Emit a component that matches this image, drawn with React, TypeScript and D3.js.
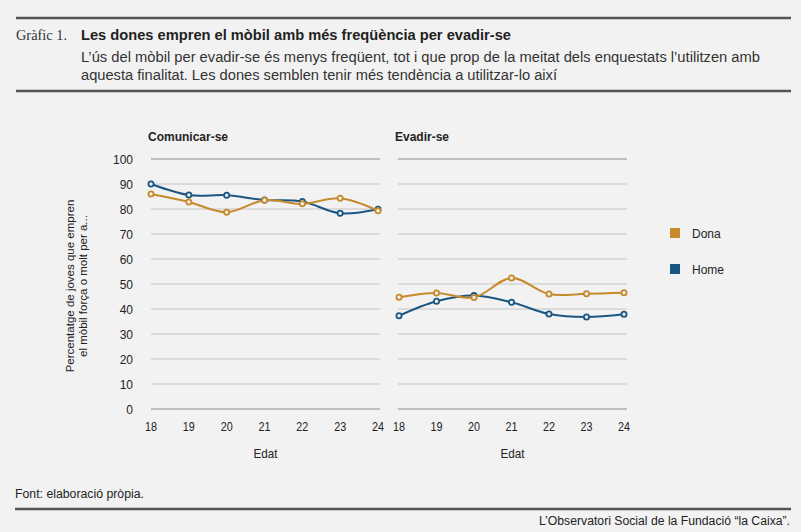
import * as d3 from 'd3';

const ages = [18, 19, 20, 21, 22, 23, 24];
const yTicks = [0, 10, 20, 30, 40, 50, 60, 70, 80, 90, 100];

const comunicarDona = [86, 82.8, 78.7, 83.5, 82.1, 84.3, 79.3];
const comunicarHome = [90, 85.6, 85.5, 83.6, 83, 78.3, 79.9];
const evadirDona = [44.7, 46.4, 44.6, 52.4, 46, 46.1, 46.5];
const evadirHome = [37.3, 43.1, 45.4, 42.7, 38, 36.8, 37.9];

const panelTitles = ['Comunicar-se', 'Evadir-se'];
const seriesNames = ['Dona', 'Home'];
const seriesColors = ['#c68a2b', '#1b5682'];

const narrow = '"Liberation Sans", Arial, sans-serif';
const sans = '"Liberation Sans", Arial, sans-serif';

export default function App() {
  const width = 801;
  const height = 532;
  const top = 159;
  const bottom = 409;
  const panels = [
    { x0: 151, x1: 378, gx0: 151, gx1: 380, dona: comunicarDona, home: comunicarHome },
    { x0: 399, x1: 624, gx0: 398, gx1: 627, dona: evadirDona, home: evadirHome },
  ];

  const y = d3.scaleLinear().domain([0, 100]).range([bottom, top]);

  return (
    <div style={{ position: 'fixed', left: 0, top: 0 }}>
      <svg width={width} height={height} viewBox={`0 0 ${width} ${height}`} style={{ display: 'block' }}>
        <rect width={width} height={height} fill="#f2f2f2" />

        {/* header */}
        <line x1={16} x2={791} y1={18} y2={18} stroke="#555" strokeWidth={2.5} />
        <text x={16} y={40} fontFamily='"Liberation Serif", serif' fontSize={14} fill="#333" textLength={51} lengthAdjust="spacingAndGlyphs">
          Gràfic 1.
        </text>
        <text x={81} y={40} fontFamily={narrow} fontSize={15.5} fontWeight="bold" fill="#222" textLength={430} lengthAdjust="spacingAndGlyphs">
          Les dones empren el mòbil amb més freqüència per evadir-se
        </text>
        <text x={81} y={62} fontFamily={narrow} fontSize={15.5} fill="#333" textLength={679} lengthAdjust="spacingAndGlyphs">
          L’ús del mòbil per evadir-se és menys freqüent, tot i que prop de la meitat dels enquestats l’utilitzen amb
        </text>
        <text x={81} y={80} fontFamily={narrow} fontSize={15.5} fill="#333" textLength={476} lengthAdjust="spacingAndGlyphs">
          aquesta finalitat. Les dones semblen tenir més tendència a utilitzar-lo així
        </text>
        <line x1={16} x2={791} y1={91} y2={91} stroke="#555" strokeWidth={2.5} />

        {/* y axis label */}
        <text
          transform={`translate(74,${(top + bottom) / 2 + 2}) rotate(-90)`}
          textAnchor="middle"
          fontFamily={sans}
          fontSize={11.5}
          fill="#222"
        >
          <tspan x={0} dy={0}>Percentatge de joves que empren</tspan>
          <tspan x={0} dy={12.5}>el mòbil força o molt per a...</tspan>
        </text>

        {yTicks.map((t) => (
          <text key={t} x={133} y={y(t) + 4.5} textAnchor="end" fontFamily={sans} fontSize={12} fill="#222">
            {t}
          </text>
        ))}

        {panels.map((p, pi) => {
          const x = d3.scaleLinear().domain([18, 24]).range([p.x0, p.x1]);
          const line = d3
            .line<number>()
            .x((_, i) => x(ages[i]))
            .y((v) => y(v))
            .curve(d3.curveCatmullRom.alpha(0.5));
          const series = [p.dona, p.home];
          return (
            <g key={pi}>
              <text x={p.gx0 - 3} y={141} fontFamily={sans} fontSize={12} fontWeight="bold" fill="#222">
                {panelTitles[pi]}
              </text>
              {yTicks.map((t) => (
                <line
                  key={t}
                  x1={p.gx0}
                  x2={p.gx1}
                  y1={y(t)}
                  y2={y(t)}
                  stroke={t === 0 || t === 100 ? '#8a8a8a' : '#c4c4c4'}
                  strokeWidth={1}
                />
              ))}
              {ages.map((a) => (
                <text key={a} x={x(a)} y={431} textAnchor="middle" fontFamily={narrow} fontSize={13.5} fill="#222" textLength={12} lengthAdjust="spacingAndGlyphs">
                  {a}
                </text>
              ))}
              <text x={(p.gx0 + p.gx1) / 2} y={458} textAnchor="middle" fontFamily={narrow} fontSize={13.5} fill="#222" textLength={24} lengthAdjust="spacingAndGlyphs">
                Edat
              </text>
              {[1, 0].map((si) => (
                <g key={si}>
                  <path d={line(series[si]) ?? ''} fill="none" stroke={seriesColors[si]} strokeWidth={2} />
                  {series[si].map((v, i) => (
                    <circle
                      key={i}
                      cx={x(ages[i])}
                      cy={y(v)}
                      r={2.6}
                      fill="#f2f2f2"
                      stroke={seriesColors[si]}
                      strokeWidth={1.8}
                    />
                  ))}
                </g>
              ))}
            </g>
          );
        })}

        {/* legend */}
        {seriesNames.map((n, i) => (
          <g key={n} transform={`translate(670,${228 + i * 36})`}>
            <rect width={10} height={10} fill={seriesColors[i]} />
            <text x={22} y={10} fontFamily={sans} fontSize={12} fill="#222">
              {n}
            </text>
          </g>
        ))}

        {/* footer */}
        <text x={15} y={498} fontFamily={narrow} fontSize={12.5} fill="#222" textLength={129} lengthAdjust="spacingAndGlyphs">
          Font: elaboració pròpia.
        </text>
        <line x1={15} x2={791} y1={509} y2={509} stroke="#555" strokeWidth={2.5} />
        <text x={790} y={525} textAnchor="end" fontFamily={narrow} fontSize={12.5} fill="#222" textLength={251} lengthAdjust="spacingAndGlyphs">
          L’Observatori Social de la Fundació “la Caixa”.
        </text>
      </svg>
    </div>
  );
}
